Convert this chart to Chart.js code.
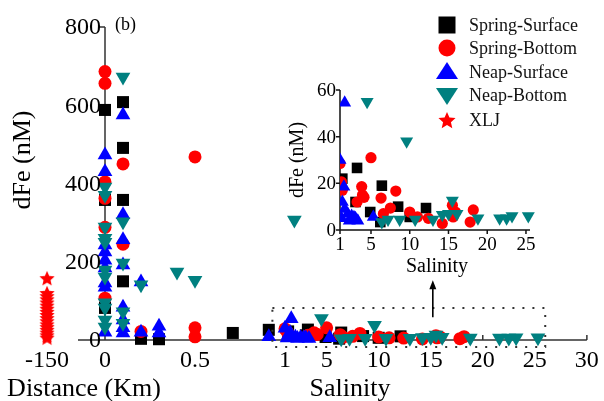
<!DOCTYPE html>
<html><head><meta charset="utf-8">
<script src="https://cdn.jsdelivr.net/npm/chart.js@4.4.1/dist/chart.umd.min.js"></script>
<style>
html,body{margin:0;padding:0;background:#fff;}
#wrap{position:relative;width:604px;height:401px;overflow:hidden;}
#main{position:absolute;left:0;top:0;}
#inset{position:absolute;left:270px;top:70px;}
</style></head><body>
<div id="wrap"><canvas id="main" width="604" height="401"></canvas><canvas id="inset" width="280" height="215"></canvas></div>
<script>
// ---------------- DATA ----------------
const seriesNames = ['Spring-Surface','Spring-Bottom','Neap-Surface','Neap-Bottom','XLJ'];

// Spring-Surface
const ssDistKm = [0, 0, 0, 0.1, 0.1, 0.1, 0.1, 0.2, 0.3, 0.71, 0.91];
const ssDistFe = [588, 358, 82, 608, 491, 358, 150, 3, 2, 18, 26];
const ssSal    = [1.3, 3.2, 3.0, 4.9, 6.2, 6.4, 8.5, 10.0, 12.1];
const ssSalFe  = [22, 26.6, 12, 7.7, 3.4, 19, 10, 5.6, 9.4];

// Spring-Bottom
const sbDistKm = [0, 0, 0, 0, 0, 0, 0.1, 0.1, 0.2, 0.5, 0.5, 0.5];
const sbDistFe = [686, 656, 404, 362, 288, 107, 450, 245, 22, 468, 31, 8];
const sbSal    = [1.0, 1.2, 1.3, 3.2, 3.8, 3.9, 4.1, 5.0, 6.3, 6.6, 7.5, 8.2, 10.0, 11.0, 12.4, 14.2, 15.5, 15.6, 15.9, 17.8, 18.2];
const sbSalFe  = [28.5, 20.6, 17, 12, 18.6, 15, 14, 31, 13.7, 7, 9.4, 16.7, 7.7, 5.6, 5, 2.8, 10.6, 5.6, 7.7, 3.4, 8.6];

// Neap-Surface
const nsDistKm = [0,0,0,0,0,0,0,0,0, 0.1,0.1,0.1,0.1,0.1,0.1,0.1,0.1, 0.2,0.2, 0.3,0.3, 0.91];
const nsDistFe = [473,430,243,225,204,184,146,135,20, 575,320,256,192,84,51,31,18, 148,20, 35,18, 8];
const nsSal    = [1.0, 1.2, 1.3, 1.5, 1.6, 1.6, 2.0, 2.2, 2.5, 2.8, 3.0, 3.3, 5.3];
const nsSalFe  = [30, 5, 12, 18.5, 54.5, 9, 7, 4, 6, 5.5, 5, 4, 5.6];

// Neap-Bottom
const nbDistKm = [0,0,0,0,0,0,0,0,0,0,0, 0.1,0.1,0.1,0.1,0.1, 0.2, 0.4, 0.5];
const nbDistFe = [391,370,289,260,250,179,161,95,82,51,33, 672,302,197,72,43, 141, 174, 153];
const nbSal    = [1.9, 4.5, 6.4, 7.2, 8.7, 9.6, 10.7, 13.0, 14.2, 15.0, 15.5, 16.1, 18.8, 21.6, 22.5, 23.2, 25.3];
const nbSalFe  = [307, 55, 3.4, 4.5, 4.5, 38, 4.5, 4.5, 6.5, 7, 12.6, 7, 5, 5, 5, 6, 6];

// XLJ
const xljDistKm = [-150,-150,-150,-150,-150,-150,-150,-150,-150,-150,-150,-150,-150,-150,-150,-150,-150];
const xljFe     = [158, 120, 112, 104, 96, 88, 80, 72, 64, 56, 48, 40, 33, 26, 19, 12, 6];

// Tick labels
const xTickKm  = [-150, 0, 0.5];
const xTickKmLabels = ['-150', '0', '0.5'];
const xTickSal = [1, 5, 10, 15, 20, 25, 30];
const yTicks   = [0, 200, 400, 600, 800];
const insetXTicks = [1, 5, 10, 15, 20, 25];
const insetYTicks = [0, 20, 40, 60];

// ---------------- HELPERS ----------------
// broken axis: distance (km) segment then salinity segment
function axisPos(kind, v){
  if(kind === 'km') return v >= 0 ? v : v / 150 * 0.322;
  return 1 + (v - 1) * 0.05783;
}
function pts(kind, xs, ys){ return xs.map((v,i)=>({x: axisPos(kind, v), y: ys[i]})); }
function ptsRaw(xs, ys){ return xs.map((v,i)=>({x: v, y: ys[i]})); }

function starImg(size, color){
  const c = document.createElement('canvas'); c.width = c.height = size;
  const g = c.getContext('2d'); g.fillStyle = color; g.beginPath();
  const R = size/2, r = R*0.46, cx = size/2, cy = size/2 + size*0.05;
  for(let i=0;i<10;i++){ const a=-Math.PI/2+i*Math.PI/5; const rr=i%2?r:R; g.lineTo(cx+rr*Math.cos(a), cy+rr*Math.sin(a)); }
  g.closePath(); g.fill(); return c;
}

const COLORS = ['#000000', '#ff0000', '#0000ff', '#008080', '#ff0000'];
const SERIF = '"Liberation Serif", "Times New Roman", serif';

function style(i, big){
  const st = [
    {pointStyle:'rect', pointRadius: big?8.5:7.5, pointRotation:0},
    {pointStyle:'circle', pointRadius: big?6.5:5.6, pointRotation:0},
    {pointStyle:'triangle', pointRadius: big?8.5:7.5, pointRotation:0},
    {pointStyle:'triangle', pointRadius: big?8.5:7.5, pointRotation:180},
    {pointStyle: starImg(16, COLORS[4]), pointRadius: 8, pointRotation:0}
  ][i];
  return Object.assign({label: seriesNames[i], backgroundColor: COLORS[i], borderColor: COLORS[i],
    pointBackgroundColor: COLORS[i], pointBorderColor: COLORS[i], pointBorderWidth: 0,
    showLine:false, order: 5 - i}, st);
}

// ---------------- MAIN CHART ----------------
const mainSets = [
  Object.assign(style(0,true), {data: pts('km', ssDistKm, ssDistFe).concat(pts('sal', ssSal, ssSalFe))}),
  Object.assign(style(1,true), {data: pts('km', sbDistKm, sbDistFe).concat(pts('sal', sbSal, sbSalFe))}),
  Object.assign(style(2,true), {data: pts('km', nsDistKm, nsDistFe).concat(pts('sal', nsSal, nsSalFe))}),
  Object.assign(style(3,true), {data: pts('km', nbDistKm, nbDistFe).concat(pts('sal', nbSal, nbSalFe))}),
  Object.assign(style(4,true), {data: pts('km', xljDistKm, xljFe)})
];
mainSets.forEach(d => d.clip = false);

function legendMarker(ctx, i, x, y){
  ctx.save(); ctx.fillStyle = COLORS[i]; ctx.beginPath();
  if(i===0){ ctx.rect(x-8.5, y-8.5, 17, 17); }
  else if(i===1){ ctx.arc(x, y, 8.5, 0, Math.PI*2); }
  else if(i===2){ ctx.moveTo(x, y-10); ctx.lineTo(x+11, y+7); ctx.lineTo(x-11, y+7); ctx.closePath(); }
  else if(i===3){ ctx.moveTo(x, y+10); ctx.lineTo(x+11, y-7); ctx.lineTo(x-11, y-7); ctx.closePath(); }
  else { const img = starImg(18, COLORS[4]); ctx.drawImage(img, x-9, y-9); ctx.restore(); return; }
  ctx.fill(); ctx.restore();
}

const mainAxes = {
  id: 'mainAxes',
  beforeDatasetsDraw(chart){
    const {ctx, scales:{x, y}} = chart;
    const y0 = y.getPixelForValue(0), x0 = x.getPixelForValue(0);
    ctx.save();
    ctx.strokeStyle = '#333'; ctx.lineWidth = 1.5;
    ctx.beginPath();
    ctx.moveTo(x.getPixelForValue(-0.15), y0); ctx.lineTo(x.getPixelForValue(axisPos('sal', 30)), y0);
    ctx.moveTo(x0, y0); ctx.lineTo(x0, y.getPixelForValue(800));
    yTicks.forEach(v => { const p = y.getPixelForValue(v); ctx.moveTo(x0, p); ctx.lineTo(x0-5, p); });
    xTickKm.forEach(v => { const p = x.getPixelForValue(axisPos('km', v)); if(v>0){ctx.moveTo(p, y0); ctx.lineTo(p, y0-5);} });
    xTickSal.forEach(v => { const p = x.getPixelForValue(axisPos('sal', v)); ctx.moveTo(p, y0); ctx.lineTo(p, y0-5); });
    ctx.stroke();
    ctx.restore();
  },
  afterDatasetsDraw(chart){
    const {ctx, scales:{x, y}} = chart;
    const y0 = y.getPixelForValue(0), x0 = x.getPixelForValue(0);
    ctx.save();
    ctx.fillStyle = '#000';
    ctx.font = '24px ' + SERIF;
    ctx.textAlign = 'right'; ctx.textBaseline = 'middle';
    yTicks.forEach(v => ctx.fillText(String(v), x0 - 4, y.getPixelForValue(v) + 1));
    ctx.textAlign = 'center'; ctx.textBaseline = 'top';
    xTickKm.forEach((v,i) => ctx.fillText(xTickKmLabels[i], x.getPixelForValue(axisPos('km', v)), y0 + 9));
    xTickSal.forEach(v => ctx.fillText(String(v), x.getPixelForValue(axisPos('sal', v)), y0 + 9));
    // axis titles
    ctx.font = '26px ' + SERIF; ctx.textBaseline = 'middle';
    ctx.fillText('Distance (Km)', 84, 389);
    ctx.fillText('Salinity', 350, 389);
    ctx.save(); ctx.translate(23, 160); ctx.rotate(-Math.PI/2); ctx.fillText('dFe (nM)', 0, 0); ctx.restore();
    ctx.font = '18px ' + SERIF; ctx.textAlign = 'left';
    ctx.fillText('(b)', 115, 25);
    // dotted zoom box
    const bx1 = x.getPixelForValue(axisPos('km', 0.93)), bx2 = x.getPixelForValue(axisPos('sal', 26));
    const by1 = y.getPixelForValue(82), by2 = y.getPixelForValue(-18);
    ctx.strokeStyle = '#333'; ctx.lineWidth = 2; ctx.setLineDash([2, 8]);
    ctx.strokeRect(bx1, by1, bx2 - bx1, by2 - by1);
    ctx.setLineDash([]);
    // arrow
    const ax = x.getPixelForValue(axisPos('sal', 15.2));
    const ayB = y.getPixelForValue(58), ayT = y.getPixelForValue(153);
    ctx.strokeStyle = '#000'; ctx.lineWidth = 1.6;
    ctx.beginPath(); ctx.moveTo(ax, ayB); ctx.lineTo(ax, ayT + 6); ctx.stroke();
    ctx.beginPath(); ctx.moveTo(ax, ayT); ctx.lineTo(ax + 3.5, ayT + 9); ctx.lineTo(ax - 3.5, ayT + 9); ctx.closePath(); ctx.fill();
    // legend
    const rows = [25, 48, 72, 95, 120];
    ctx.font = '18px ' + SERIF; ctx.textAlign = 'left'; ctx.textBaseline = 'middle';
    chart.data.datasets.forEach((d, i) => {
      legendMarker(ctx, i, 447, rows[i]);
      ctx.fillStyle = '#111';
      ctx.fillText(d.label, 469, rows[i] + 1);
    });
    ctx.restore();
  }
};

new Chart(document.getElementById('main'), {
  type: 'scatter',
  data: { datasets: mainSets },
  options: {
    responsive: false, animation: false, devicePixelRatio: 1, events: [],
    layout: { padding: { left: 24, right: 13, top: 27, bottom: 61 } },
    scales: {
      x: { type: 'linear', min: -0.45, max: 2.7, display: false },
      y: { type: 'linear', min: 0, max: 800, display: false }
    },
    plugins: { legend: { display: false }, tooltip: { enabled: false } }
  },
  plugins: [mainAxes]
});

// ---------------- INSET CHART ----------------
const insetSets = [
  Object.assign(style(0,false), {data: ptsRaw(ssSal, ssSalFe)}),
  Object.assign(style(1,false), {data: ptsRaw(sbSal, sbSalFe)}),
  Object.assign(style(2,false), {data: ptsRaw(nsSal, nsSalFe)}),
  Object.assign(style(3,false), {data: ptsRaw(nbSal, nbSalFe)})
];
insetSets.forEach(d => d.clip = {left: 0, top: 8, right: 12, bottom: 8});

const insetAxes = {
  id: 'insetAxes',
  beforeDatasetsDraw(chart){
    const {ctx, scales:{x, y}} = chart;
    const y0 = y.getPixelForValue(0), x0 = x.getPixelForValue(1);
    ctx.save(); ctx.strokeStyle = '#111'; ctx.lineWidth = 1.5; ctx.beginPath();
    ctx.moveTo(x0, y.getPixelForValue(60)); ctx.lineTo(x0, y0); ctx.lineTo(x.getPixelForValue(25.52), y0);
    insetYTicks.forEach(v => { const p = y.getPixelForValue(v); ctx.moveTo(x0, p); ctx.lineTo(x0-4, p); });
    insetXTicks.forEach(v => { const p = x.getPixelForValue(v); ctx.moveTo(p, y0); ctx.lineTo(p, y0+4); });
    ctx.stroke(); ctx.restore();
  },
  afterDatasetsDraw(chart){
    const {ctx, scales:{x, y}} = chart;
    const y0 = y.getPixelForValue(0), x0 = x.getPixelForValue(1);
    ctx.save(); ctx.fillStyle = '#000';
    ctx.font = '19px ' + SERIF;
    ctx.textAlign = 'right'; ctx.textBaseline = 'middle';
    insetYTicks.forEach(v => ctx.fillText(String(v), x0 - 4, y.getPixelForValue(v) + 1));
    ctx.textAlign = 'center'; ctx.textBaseline = 'top';
    insetXTicks.forEach(v => ctx.fillText(String(v), x.getPixelForValue(v), y0 + 6));
    ctx.font = '20px ' + SERIF; ctx.textBaseline = 'middle';
    ctx.fillText('Salinity', 167, 197);
    ctx.save(); ctx.translate(28, 90); ctx.rotate(-Math.PI/2); ctx.fillText('dFe (nM)', 0, 0); ctx.restore();
    ctx.restore();
  }
};

new Chart(document.getElementById('inset'), {
  type: 'scatter',
  data: { datasets: insetSets },
  options: {
    responsive: false, animation: false, devicePixelRatio: 1, events: [],
    layout: { padding: { left: 70, right: 20, top: 20, bottom: 55 } },
    scales: {
      x: { type: 'linear', min: 1, max: 25.52, display: false },
      y: { type: 'linear', min: 0, max: 60, display: false }
    },
    plugins: { legend: { display: false }, tooltip: { enabled: false } }
  },
  plugins: [insetAxes]
});
</script>
</body></html>
